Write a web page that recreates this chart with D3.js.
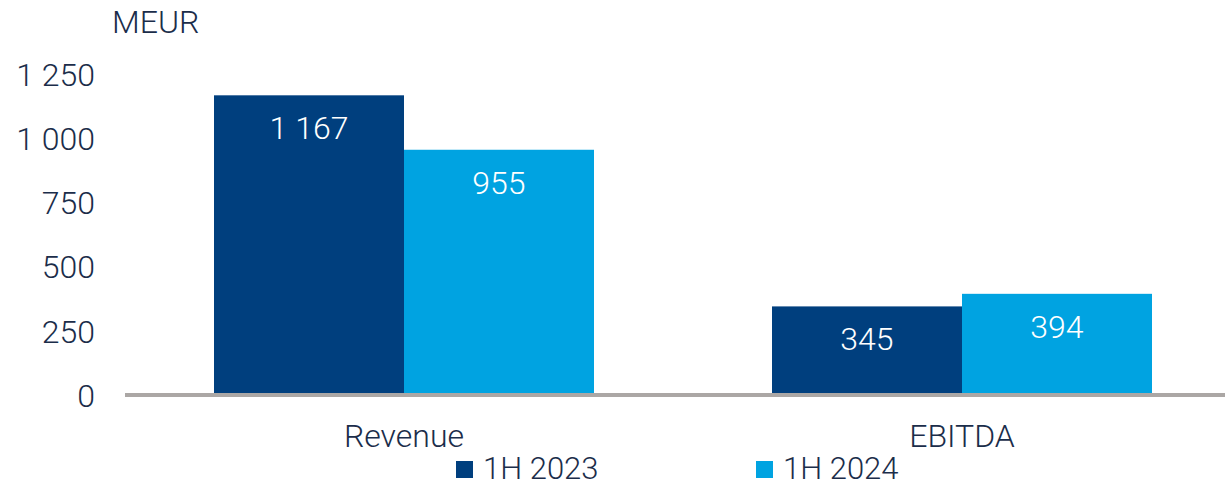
<!DOCTYPE html>
<html>
<head>
<meta charset="utf-8">
<script src="https://cdn.jsdelivr.net/npm/d3@7"></script>
<style>
  html, body { margin: 0; padding: 0; background: #ffffff; }
  svg { display: block; }
  text { font-family: Roboto, "Liberation Sans", sans-serif; font-weight: 300; }
</style>
</head>
<body>
<svg id="chart" width="1225" height="486"></svg>
<script>
// Half-year key figures, MEUR
const categories = ["Revenue", "EBITDA"];
const seriesNames = ["1H 2023", "1H 2024"];
const values2023 = [1167, 345];
const values2024 = [955, 394];
const yTicks = [0, 250, 500, 750, 1000, 1250];
const unitLabel = "MEUR";

const colors = ["#003f7e", "#00a3e1"];
const textColor = "#1b2d4a";
const fontSize = "32px";

const svg = d3.select("#chart");
const W = 1225;

const locale = d3.formatLocale({ decimal: ",", thousands: " ", grouping: [3], currency: ["", ""] });
const fmt = locale.format(",d");

const y = d3.scaleLinear().domain([0, 1250]).range([395, 74]);

const x0 = d3.scaleBand()
  .domain(categories)
  .range([125, 1241])
  .paddingInner(0.319)
  .paddingOuter(0.1595);

const x1 = d3.scaleBand()
  .domain(seriesNames)
  .range([0, x0.bandwidth()])
  .padding(0);

const rows = categories.map((c, i) => ({
  category: c,
  items: [
    { series: seriesNames[0], value: values2023[i] },
    { series: seriesNames[1], value: values2024[i] }
  ]
}));

const color = d3.scaleOrdinal().domain(seriesNames).range(colors);

// Y axis labels (no line, no ticks)
const yAxis = d3.axisLeft(y).tickValues(yTicks).tickSize(0).tickPadding(0).tickFormat(fmt);
const gy = svg.append("g").attr("transform", "translate(95,0)").call(yAxis);
gy.select(".domain").remove();
gy.selectAll("text")
  .attr("fill", textColor)
  .style("font-size", fontSize)
  .style("font-family", "Roboto, 'Liberation Sans', sans-serif")
  .style("font-weight", 300)
  .attr("dy", "0.35em");

svg.append("text")
  .attr("x", 112).attr("y", 33)
  .attr("fill", textColor)
  .style("font-size", fontSize)
  .text(unitLabel);

// Bars
const groups = svg.append("g").selectAll("g")
  .data(rows).join("g")
  .attr("transform", d => `translate(${x0(d.category)},0)`);

groups.selectAll("rect")
  .data(d => d.items).join("rect")
  .attr("x", d => x1(d.series))
  .attr("y", d => y(d.value))
  .attr("width", x1.bandwidth())
  .attr("height", d => y(0) - y(d.value))
  .attr("fill", d => color(d.series));

groups.selectAll("text.val")
  .data(d => d.items).join("text")
  .attr("class", "val")
  .attr("x", d => x1(d.series) + x1.bandwidth() / 2)
  .attr("y", d => y(d.value) + 44)
  .attr("text-anchor", "middle")
  .attr("fill", "#ffffff")
  .style("font-size", fontSize)
  .text(d => fmt(d.value));

// Baseline
svg.append("line")
  .attr("x1", 125).attr("x2", W)
  .attr("y1", y(0)).attr("y2", y(0))
  .attr("stroke", "#aba7a5")
  .attr("stroke-width", 4);

// Category labels
const xAxis = d3.axisBottom(x0).tickSize(0).tickPadding(0);
const gx = svg.append("g").attr("transform", "translate(0,447)").call(xAxis);
gx.select(".domain").remove();
gx.selectAll("text")
  .attr("y", 0).attr("dy", 0)
  .attr("fill", textColor)
  .style("font-size", fontSize)
  .style("font-family", "Roboto, 'Liberation Sans', sans-serif")
  .style("font-weight", 300);

// Legend
const legendX = [456, 756];
const legend = svg.append("g").selectAll("g")
  .data(seriesNames).join("g")
  .attr("transform", (d, i) => `translate(${legendX[i]},0)`);
legend.append("rect")
  .attr("x", 0).attr("y", 461)
  .attr("width", 17).attr("height", 17)
  .attr("fill", d => color(d));
legend.append("text")
  .attr("x", 27).attr("y", 479)
  .attr("fill", textColor)
  .style("font-size", "31px")
  .text(d => d);
</script>
</body>
</html>
